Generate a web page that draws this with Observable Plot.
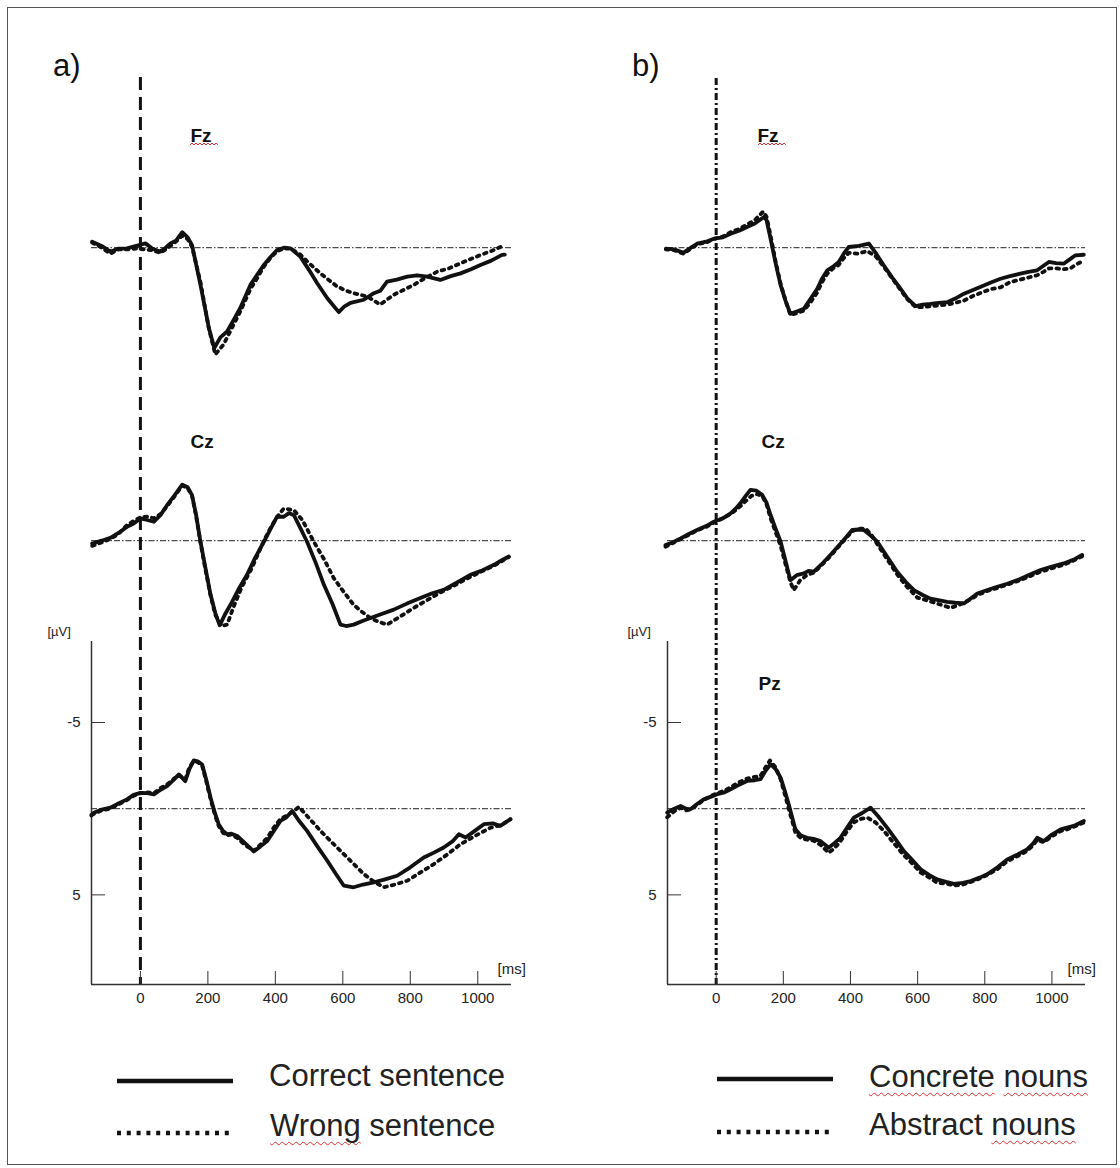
<!DOCTYPE html>
<html>
<head>
<meta charset="utf-8">
<script src="https://cdn.jsdelivr.net/npm/d3@7"></script>
<script src="https://cdn.jsdelivr.net/npm/@observablehq/plot@0.6"></script>
<style>
  html, body { margin: 0; padding: 0; background: #fff; }
  #page { position: relative; width: 1120px; height: 1168px; overflow: hidden; background: #fff;
          font-family: "Liberation Sans", Arial, sans-serif; color: #222; }
  #border { position: absolute; left: 7px; top: 7px; width: 1108px; height: 1156px; border: 1.5px solid #555; }
  .panel { position: absolute; top: 0; }
  .letter { position: absolute; font-size: 31px; line-height: 1; color: #111; }
  .legtext { position: absolute; font-size: 31px; line-height: 1; color: #222; white-space: nowrap; }
  .sq { text-decoration: underline wavy #e03030; text-decoration-thickness: 1px; text-underline-offset: 5px; text-decoration-skip-ink: none; }
  .legline { position: absolute; overflow: visible; }
  .chsq { position: absolute; height: 4px; width: 28px; overflow: visible; }
  g[aria-label="channel label"] text { letter-spacing: 3.5px; }
</style>
</head>
<body>
<div id="page">
  <div id="border"></div>
  <div id="panelA" class="panel" style="left:0px"></div>
  <div id="panelB" class="panel" style="left:560px"></div>
  <div class="letter" style="left:53px; top:50px">a)</div>
  <div class="letter" style="left:632px; top:50px">b)</div>
  <div id="legend"></div>
</div>
<script>
// ---------------- DATA ----------------
const xTicks = [0, 200, 400, 600, 800, 1000];
const yTicks = [-5, 5];
const xDomain = [-145, 1100];   // ms
const yDomain = [-9.7, 10.2];   // µV (negative up)

const legendA = ["Correct sentence", "Wrong sentence"];
const legendB = ["Concrete nouns", "Abstract nouns"];

// a) [ms, µV]
const aFzCorrect = [[-143,-0.35],[-115,-0.1],[-89,0.23],[-65,0.05],[-40,0.04],[-15,-0.1],[15,-0.25],[35,0.05],[59,0.23],[75,0],[89,-0.25],[105,-0.4],[124,-0.9],[140,-0.6],[153,-0.15],[178,2.15],[203,4.66],[219,5.82],[237,5.2],[257,4.86],[276,4.2],[296,3.5],[326,2.16],[345,1.6],[366,1.0],[385,0.55],[405,0.13],[425,0.0],[445,0.04],[474,0.52],[500,1.3],[524,2.06],[554,2.93],[588,3.74],[605,3.4],[623,3.2],[662,3.02],[692,2.64],[711,2.5],[731,1.97],[760,1.85],[791,1.68],[820,1.6],[850,1.68],[889,1.87],[920,1.65],[949,1.49],[980,1.25],[1008,1.0],[1040,0.75],[1072,0.42],[1080,0.4]];
const aFzWrong = [[-143,-0.3],[-115,0.0],[-89,0.35],[-65,0.1],[-40,0.1],[-15,0.05],[15,0.1],[35,0.15],[59,0.3],[75,0.1],[89,-0.1],[105,-0.35],[124,-0.7],[140,-0.5],[153,-0.05],[178,2.0],[203,4.7],[222,6.2],[247,5.6],[270,4.7],[296,3.7],[326,2.4],[345,1.8],[366,1.1],[385,0.6],[405,0.2],[425,0.05],[445,0.05],[474,0.4],[500,0.9],[534,1.5],[560,1.9],[583,2.25],[610,2.5],[632,2.64],[672,2.83],[711,3.3],[751,2.73],[780,2.45],[810,2.16],[845,1.75],[880,1.39],[915,1.2],[949,0.9],[980,0.65],[1008,0.42],[1040,0.2],[1080,-0.15]];
const aCzCorrect = [[-143,0.16],[-115,0.0],[-89,-0.17],[-65,-0.45],[-40,-0.8],[-20,-1.0],[0,-1.29],[20,-1.2],[40,-1.1],[60,-1.5],[79,-2.06],[100,-2.6],[124,-3.25],[140,-3.1],[153,-2.64],[165,-1.5],[178,0.06],[193,1.6],[208,3.14],[222,4.2],[235,4.91],[250,4.3],[267,3.72],[290,2.85],[316,1.98],[340,1.0],[366,0.06],[385,-0.65],[405,-1.39],[425,-1.39],[440,-1.6],[455,-1.48],[475,-0.7],[494,0.06],[520,1.3],[544,2.56],[570,3.7],[593,4.87],[610,4.95],[632,4.87],[660,4.65],[682,4.49],[715,4.25],[751,4.0],[790,3.65],[830,3.33],[865,3.05],[899,2.85],[940,2.4],[978,1.98],[1010,1.75],[1048,1.4],[1070,1.15],[1092,0.92]];
const aCzWrong = [[-143,0.3],[-115,0.1],[-89,-0.1],[-65,-0.4],[-40,-0.9],[-20,-1.15],[0,-1.35],[20,-1.4],[40,-1.3],[60,-1.55],[79,-2.0],[100,-2.55],[124,-3.2],[140,-3.05],[153,-2.6],[165,-1.45],[178,0.1],[193,1.7],[208,3.2],[222,4.3],[240,4.95],[257,4.87],[275,3.9],[300,2.7],[330,1.6],[366,0.0],[390,-0.9],[410,-1.5],[425,-1.87],[455,-1.77],[480,-1.2],[514,0.06],[545,1.1],[573,2.17],[600,2.9],[632,3.72],[655,4.1],[682,4.49],[705,4.7],[731,4.87],[770,4.4],[810,3.9],[850,3.45],[890,3.0],[930,2.6],[978,2.1],[1010,1.8],[1048,1.45],[1092,0.95]];
const aPzCorrect = [[-145,0.4],[-138,0.23],[-115,0.05],[-89,-0.06],[-65,-0.3],[-40,-0.54],[-20,-0.8],[0,-0.92],[20,-0.9],[40,-0.83],[60,-1.1],[79,-1.31],[100,-1.7],[114,-1.99],[133,-1.6],[145,-2.3],[158,-2.8],[170,-2.75],[183,-2.56],[195,-1.7],[208,-0.64],[220,0.2],[232,0.9],[245,1.3],[257,1.48],[270,1.45],[287,1.58],[310,2.0],[336,2.48],[355,2.2],[376,1.87],[395,1.3],[415,0.71],[433,0.5],[450,0.13],[470,0.7],[494,1.29],[525,2.2],[554,3.02],[580,3.8],[603,4.47],[632,4.56],[660,4.4],[692,4.27],[725,4.1],[761,3.89],[800,3.4],[840,2.83],[870,2.55],[899,2.25],[925,1.9],[944,1.48],[964,1.67],[990,1.3],[1018,0.9],[1045,0.85],[1067,1.0],[1097,0.61]];
const aPzWrong = [[-145,0.35],[-138,0.3],[-115,0.1],[-89,0.0],[-65,-0.25],[-40,-0.5],[-20,-0.75],[0,-0.9],[20,-0.95],[40,-0.9],[60,-1.2],[79,-1.4],[100,-1.75],[114,-1.95],[133,-1.7],[145,-2.4],[158,-2.75],[170,-2.7],[183,-2.5],[195,-1.6],[208,-0.55],[220,0.3],[232,1.0],[245,1.4],[257,1.55],[270,1.5],[287,1.7],[310,2.1],[336,2.45],[355,2.1],[376,1.7],[395,1.1],[415,0.6],[433,0.4],[450,0.2],[470,-0.1],[500,0.55],[534,1.29],[570,2.0],[603,2.64],[632,3.2],[662,3.79],[690,4.2],[721,4.56],[755,4.4],[791,4.18],[830,3.7],[870,3.21],[910,2.65],[949,2.06],[990,1.6],[1038,1.1],[1070,0.95],[1097,0.61]];

// b) [ms, µV]
const bFzConcrete = [[-150,0.06],[-125,0.1],[-97,0.29],[-75,0.0],[-57,-0.23],[-30,-0.35],[-7,-0.52],[20,-0.6],[43,-0.81],[70,-1.0],[92,-1.2],[115,-1.4],[142,-1.78],[150,-1.6],[162,-0.52],[177,0.9],[192,2.19],[207,3.1],[221,3.84],[240,3.7],[261,3.55],[280,3.0],[301,2.38],[315,1.8],[331,1.31],[348,1.1],[365,0.83],[380,0.35],[395,-0.04],[425,-0.1],[455,-0.23],[475,0.3],[499,1.02],[525,1.75],[549,2.38],[570,2.95],[594,3.39],[615,3.3],[638,3.26],[662,3.2],[688,3.16],[712,2.95],[738,2.67],[765,2.45],[797,2.19],[820,2.0],[847,1.8],[875,1.65],[906,1.51],[930,1.4],[956,1.31],[975,1.05],[991,0.83],[1012,0.9],[1035,0.93],[1055,0.65],[1070,0.44],[1095,0.41]];
const bFzAbstract = [[-150,0.1],[-125,0.15],[-97,0.35],[-75,0.05],[-57,-0.2],[-30,-0.3],[-7,-0.5],[20,-0.65],[43,-0.9],[70,-1.1],[92,-1.35],[115,-1.6],[140,-2.1],[150,-1.8],[162,-0.7],[177,0.8],[192,2.1],[207,3.1],[221,3.9],[240,3.8],[261,3.65],[280,3.2],[301,2.6],[315,2.0],[331,1.5],[348,1.2],[365,1.0],[380,0.6],[395,0.3],[420,0.35],[450,0.2],[475,0.5],[499,1.1],[525,1.8],[549,2.45],[570,3.0],[594,3.45],[615,3.45],[638,3.4],[662,3.35],[688,3.3],[712,3.2],[738,3.07],[765,2.8],[797,2.55],[820,2.4],[847,2.3],[875,2.0],[906,1.85],[936,1.7],[956,1.6],[975,1.4],[991,1.2],[1012,1.2],[1035,1.25],[1055,1.2],[1070,1.0],[1095,0.74]];
const bCzConcrete = [[-151,0.25],[-130,0.1],[-106,-0.13],[-80,-0.4],[-57,-0.62],[-30,-0.85],[-7,-1.1],[20,-1.3],[43,-1.59],[60,-1.9],[72,-2.17],[88,-2.6],[102,-2.95],[120,-2.9],[137,-2.66],[150,-2.2],[162,-1.49],[177,-0.7],[192,0.06],[207,1.2],[221,2.29],[240,2.0],[261,1.9],[275,1.75],[291,1.8],[315,1.35],[340,0.83],[360,0.4],[380,-0.04],[405,-0.62],[425,-0.65],[440,-0.62],[460,-0.3],[480,0.06],[510,0.95],[539,1.8],[565,2.4],[589,2.87],[615,3.15],[638,3.36],[662,3.45],[688,3.55],[712,3.6],[738,3.64],[758,3.35],[778,3.06],[810,2.85],[837,2.67],[867,2.5],[897,2.29],[930,2.0],[966,1.7],[1000,1.5],[1035,1.32],[1065,1.1],[1090,0.83]];
const bCzAbstract = [[-151,0.35],[-130,0.15],[-106,-0.1],[-80,-0.35],[-57,-0.6],[-30,-0.8],[-7,-1.05],[20,-1.3],[43,-1.55],[60,-1.8],[72,-2.0],[88,-2.3],[105,-2.6],[120,-2.7],[137,-2.6],[150,-2.1],[162,-1.3],[177,-0.5],[192,0.3],[207,1.4],[221,2.4],[231,2.87],[250,2.3],[270,2.0],[291,1.85],[315,1.4],[340,0.9],[360,0.45],[380,0.0],[405,-0.55],[425,-0.7],[445,-0.7],[460,-0.4],[480,0.2],[510,1.1],[539,1.95],[565,2.6],[599,3.3],[625,3.45],[650,3.6],[675,3.75],[698,3.9],[720,3.75],[738,3.6],[758,3.4],[778,3.15],[810,2.9],[837,2.75],[867,2.55],[897,2.35],[930,2.1],[966,1.8],[1000,1.6],[1035,1.4],[1065,1.15],[1090,0.9]];
const bPzConcrete = [[-146,0.23],[-125,0.0],[-106,-0.16],[-90,0.0],[-77,0.04],[-55,-0.3],[-37,-0.54],[-15,-0.7],[3,-0.84],[25,-0.95],[43,-1.13],[65,-1.35],[92,-1.61],[115,-1.65],[132,-1.71],[147,-2.2],[162,-2.58],[177,-2.3],[192,-1.8],[205,-1.0],[216,-0.26],[236,1.2],[252,1.55],[271,1.69],[290,1.75],[311,1.88],[335,2.27],[352,2.0],[370,1.69],[390,1.1],[410,0.52],[435,0.25],[460,-0.06],[485,0.5],[509,1.1],[535,1.8],[559,2.46],[585,3.0],[609,3.52],[635,3.85],[658,4.1],[685,4.25],[708,4.36],[735,4.3],[758,4.2],[785,4.0],[807,3.81],[838,3.4],[867,2.94],[898,2.65],[926,2.36],[945,2.0],[956,1.69],[976,1.88],[1000,1.5],[1026,1.2],[1045,1.1],[1065,1.0],[1095,0.71]];
const bPzAbstract = [[-146,0.5],[-125,0.15],[-106,-0.05],[-90,0.1],[-77,0.05],[-55,-0.25],[-37,-0.5],[-15,-0.75],[3,-0.9],[25,-1.05],[43,-1.25],[65,-1.5],[92,-1.75],[115,-1.85],[132,-1.9],[147,-2.4],[160,-2.8],[177,-2.4],[192,-1.7],[205,-0.8],[216,0.0],[236,1.4],[252,1.7],[271,1.8],[290,1.85],[311,2.1],[335,2.56],[352,2.3],[370,1.9],[390,1.3],[410,0.8],[430,0.6],[450,0.52],[475,0.8],[500,1.3],[525,1.9],[559,2.7],[585,3.2],[609,3.7],[635,4.0],[658,4.3],[685,4.35],[708,4.45],[735,4.4],[758,4.25],[785,4.05],[807,3.85],[838,3.5],[867,3.05],[898,2.75],[926,2.45],[945,2.1],[956,1.8],[976,1.95],[1000,1.6],[1026,1.3],[1045,1.2],[1065,1.05],[1095,0.8]];

// ---------------- LAYOUT / STYLE ----------------
const chOffset = {Fz: -561, Cz: -268, Pz: 0};   // pixel shift of each stacked channel
const W = 560, H = 1020, MT = 641, MB = 36;

function labelMarks(labels) {
  return labels.map(l => Plot.text([l.name], {frameAnchor: "top-left", dx: l.dx, dy: l.dy,
    textAnchor: "start", lineAnchor: "bottom", fontWeight: "bold", fontSize: 19, fill: "#111", ariaLabel: "channel label"}));
}

function panel(cfg) {
  const marks = [];
  marks.push(Plot.ruleX([xDomain[0]], {stroke: "#333", strokeWidth: 1.5}));
  marks.push(Plot.ruleY([yDomain[1]], {stroke: "#333", strokeWidth: 1.5}));
  for (const ch of Object.keys(chOffset)) {
    marks.push(Plot.ruleY([0], {dy: chOffset[ch], stroke: "#222", strokeWidth: 1, strokeDasharray: "6,2,1.5,2"}));
  }
  marks.push(Plot.ruleX([0], {insetTop: cfg.onsetInsetTop, stroke: "#111", strokeWidth: 3, strokeDasharray: cfg.onsetDash}));
  for (const ch of Object.keys(cfg.dotted)) {
    marks.push(Plot.line(cfg.dotted[ch], {x: d => d[0], y: d => d[1], dy: chOffset[ch], stroke: "#111", strokeWidth: 3.8, strokeDasharray: "2.6,5"}));
  }
  for (const ch of Object.keys(cfg.solid)) {
    marks.push(Plot.line(cfg.solid[ch], {x: d => d[0], y: d => d[1], dy: chOffset[ch], stroke: "#111", strokeWidth: 3.8, strokeLinejoin: "round"}));
  }
  marks.push(...labelMarks(cfg.labels));
  marks.push(Plot.text(["[µV]"], {frameAnchor: "top-left", dx: cfg.uvDx, dy: -6, textAnchor: "start", lineAnchor: "bottom", fontSize: 13, fill: "#222"}));
  marks.push(Plot.text(["[ms]"], {frameAnchor: "bottom-right", dx: cfg.msDx, dy: -15, textAnchor: "start", lineAnchor: "middle", fontSize: 15, fill: "#222"}));
  marks.push(Plot.axisY({ticks: yTicks, tickSize: -14, tickPadding: 25, tickFormat: d => String(d), label: null, stroke: "#333", fontSize: 15}));
  marks.push(Plot.axisX({ticks: xTicks, tickSize: -13, tickPadding: 21, tickFormat: d => String(d), label: null, stroke: "#333", fontSize: 15}));
  return Plot.plot({
    width: W, height: H, marginLeft: cfg.marginLeft, marginRight: cfg.marginRight, marginTop: MT, marginBottom: MB,
    x: {domain: xDomain},
    y: {domain: yDomain, reverse: true},
    style: {fontFamily: "'Liberation Sans', Arial, sans-serif", fontSize: "15px", color: "#222", background: "transparent", overflow: "visible"},
    marks
  });
}

document.getElementById("panelA").appendChild(panel({
  marginLeft: 91, marginRight: 49,
  solid: {Fz: aFzCorrect, Cz: aCzCorrect, Pz: aPzCorrect},
  dotted: {Fz: aFzWrong, Cz: aCzWrong, Pz: aPzWrong},
  labels: [{name: "Fz", dx: 99, dy: -500}, {name: "Cz", dx: 99, dy: -194}],
  onsetDash: "13,7", onsetInsetTop: -564, uvDx: -44, msDx: -14
}));
document.getElementById("panelB").appendChild(panel({
  marginLeft: 107, marginRight: 35,
  solid: {Fz: bFzConcrete, Cz: bCzConcrete, Pz: bPzConcrete},
  dotted: {Fz: bFzAbstract, Cz: bCzAbstract, Pz: bPzAbstract},
  labels: [{name: "Fz", dx: 90, dy: -500}, {name: "Cz", dx: 94, dy: -194}, {name: "Pz", dx: 91, dy: 48}],
  onsetDash: "7,3,2,3", onsetInsetTop: -563, uvDx: -40, msDx: -18
}));

// ---------------- LEGEND (HTML) ----------------
const legend = document.getElementById("legend");
const ns = "http://www.w3.org/2000/svg";
function legLine(left, top, dotted) {
  const svg = document.createElementNS(ns, "svg");
  svg.setAttribute("class", "legline");
  svg.setAttribute("width", 120); svg.setAttribute("height", 8);
  svg.style.left = left + "px"; svg.style.top = (top - 4) + "px";
  const ln = document.createElementNS(ns, "line");
  ln.setAttribute("x1", 0); ln.setAttribute("x2", 116); ln.setAttribute("y1", 4); ln.setAttribute("y2", 4);
  ln.setAttribute("stroke", "#111"); ln.setAttribute("stroke-width", dotted ? 4.5 : 4.5);
  if (dotted) ln.setAttribute("stroke-dasharray", "4,5.8");
  svg.appendChild(ln);
  legend.appendChild(svg);
}
function legText(left, top, html) {
  const d = document.createElement("div");
  d.className = "legtext"; d.style.left = left + "px"; d.style.top = top + "px";
  d.innerHTML = html;
  legend.appendChild(d);
}
// red spell-check squiggles under the "Fz" labels, as in the original figure
function squiggle(left, top) {
  const svg = document.createElementNS(ns, "svg");
  svg.setAttribute("class", "chsq");
  svg.style.left = left + "px"; svg.style.top = top + "px";
  const p = document.createElementNS(ns, "path");
  let d = "M0,3";
  for (let i = 0; i < 7; i++) d += ` l2,-2 l2,2`;
  p.setAttribute("d", d); p.setAttribute("fill", "none"); p.setAttribute("stroke", "#e03030"); p.setAttribute("stroke-width", 1);
  svg.appendChild(p);
  legend.appendChild(svg);
}
squiggle(190, 142); squiggle(758, 142);

legLine(117, 1081, false); legLine(117, 1133, true);
legLine(717, 1079, false); legLine(717, 1132, true);
legText(269, 1060, legendA[0]);
legText(270, 1110, legendA[1].replace("Wrong", '<span class="sq">Wrong</span>'));
legText(869, 1061, legendB[0].split(" ").map(w => `<span class="sq">${w}</span>`).join(" "));
legText(869, 1109, legendB[1].replace("nouns", '<span class="sq">nouns</span>'));
</script>
</body>
</html>
